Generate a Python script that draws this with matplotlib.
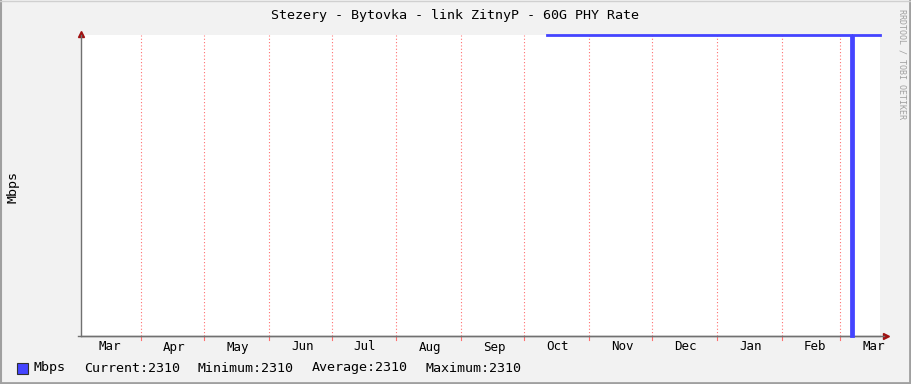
import matplotlib
matplotlib.use("Agg")
import matplotlib.pyplot as plt
import matplotlib.dates as mdates
from datetime import datetime

# data
times = [datetime(2022, 10, 12), datetime(2023, 3, 6), datetime(2023, 3, 6, 12),
         datetime(2023, 3, 7), datetime(2023, 3, 20)]
values = [2310, 0, 0, 2310, 2310]
x_start = datetime(2022, 3, 3, 8)
x_end = datetime(2023, 3, 20)
month_ticks = [datetime(2022, m, 1) for m in range(4, 13)] + [datetime(2023, m, 1) for m in range(1, 4)]
label_months = [datetime(2022, m, 1) for m in range(3, 13)] + [datetime(2023, m, 1) for m in range(1, 4)]
legend_items = ["Mbps", "Current:2310", "Minimum:2310", "Average:2310", "Maximum:2310"]
legend_x = [34, 84, 198, 312, 426]

W, H = 911, 384
fig = plt.figure(figsize=(W / 100, H / 100), dpi=100, facecolor="#f2f2f2")
plt.rcParams["font.family"] = "DejaVu Sans Mono"

# frame shading
fig.add_artist(plt.Line2D([0.5 / W, 0.5 / W], [0, 1], color="#a0a0a0", lw=1.5, transform=fig.transFigure))
fig.add_artist(plt.Line2D([1 - 1 / W, 1 - 1 / W], [0, 1], color="#a0a0a0", lw=2, transform=fig.transFigure))
fig.add_artist(plt.Line2D([0, 1], [1 / H, 1 / H], color="#a0a0a0", lw=2, transform=fig.transFigure))
fig.add_artist(plt.Line2D([0, 1], [1 - 0.5 / H, 1 - 0.5 / H], color="#d0d0d0", lw=1, transform=fig.transFigure))

ax = fig.add_axes([81 / W, 1 - 336 / H, (880 - 81) / W, (336 - 35) / H])
ax.set_facecolor("white")

x = mdates.date2num(times)
ax.plot(x, values, color="#4444ff", lw=2.0, drawstyle="steps-post", clip_on=False,
        solid_joinstyle="miter", zorder=3)

ax.set_xlim(mdates.date2num(x_start), mdates.date2num(x_end))
ax.set_ylim(0, 2310)

# month grid
for d in month_ticks:
    xv = mdates.date2num(d)
    ax.axvline(xv, color="#ff7070", lw=0.8, ls=(0, (1, 2)), zorder=1)
    ax.plot([xv, xv], [0, -0.012], color="#ff7070", lw=0.8, clip_on=False,
            transform=ax.get_xaxis_transform())

ax.set_xticks([])
ax.set_yticks([])
lab_y = -(347 - 336) / (336 - 35)
for lab in label_months:
    mid = mdates.date2num(lab) + 16
    if mid > mdates.date2num(x_end) + 5:
        mid = mdates.date2num(x_end) - 3
    ax.text(mid, lab_y, lab.strftime("%b"), transform=ax.get_xaxis_transform(),
            ha="center", va="center", fontsize=9, color="black")

for s in ["top", "right"]:
    ax.spines[s].set_visible(False)
for s in ["left", "bottom"]:
    ax.spines[s].set_color("#707070")
    ax.spines[s].set_linewidth(1)

# axis arrows
ax.plot(1.007, 0, marker=">", color="#a01010", ms=4, transform=ax.transAxes, clip_on=False)
ax.plot(0, 1.0035, marker="^", color="#a01010", ms=4, transform=ax.transAxes, clip_on=False)
ax.plot([-0.004, 1.005], [0, 0], color="#707070", lw=1, transform=ax.transAxes, clip_on=False)

fig.text(455 / W, 1 - 15 / H, "Stezery - Bytovka - link ZitnyP - 60G PHY Rate",
         ha="center", va="center", fontsize=9.6)
fig.text(13 / W, 1 - 187 / H, "Mbps", rotation=90, ha="center", va="center", fontsize=9.6)
fig.text(902 / W, 1 - 64 / H, "RRDTOOL / TOBI OETIKER", rotation=270, ha="center",
         va="center", fontsize=6, color="#a0a0a0")

# legend
fig.patches.append(plt.Rectangle((17 / W, 1 - 374 / H), 11 / W, 11 / H, facecolor="#4444ff",
                                 edgecolor="#303030", lw=0.8, transform=fig.transFigure))
for txt, lx in zip(legend_items, legend_x):
    fig.text(lx / W, 1 - 368 / H, txt, ha="left", va="center", fontsize=9.6)

fig.savefig("out.png", dpi=100, facecolor=fig.get_facecolor())
